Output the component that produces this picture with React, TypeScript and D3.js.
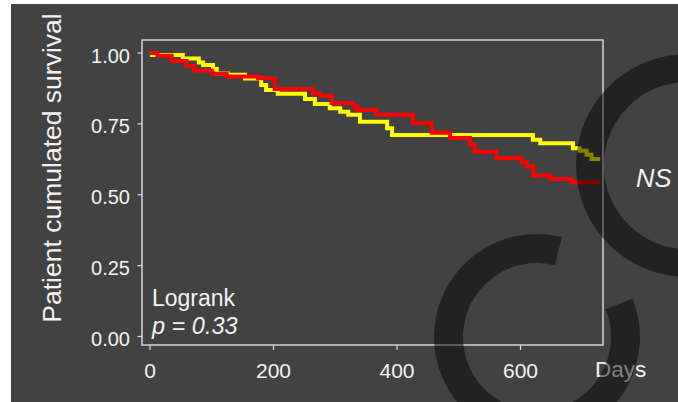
import React from "react";
import * as d3 from "d3";

const redTimes = [0, 12, 35, 59, 71, 100, 124, 175, 202, 264, 275, 294, 329, 335, 367, 426, 456, 486, 518, 526, 561, 602, 610, 621, 648, 683, 729];
const redSurv = [1.0, 0.99, 0.972, 0.955, 0.938, 0.927, 0.917, 0.911, 0.873, 0.858, 0.849, 0.824, 0.811, 0.799, 0.782, 0.752, 0.719, 0.7, 0.676, 0.652, 0.629, 0.615, 0.6, 0.568, 0.556, 0.543, 0.543];

const yellowTimes = [0, 3, 53, 79, 86, 102, 108, 126, 154, 180, 188, 207, 251, 267, 291, 308, 321, 340, 384, 392, 620, 632, 685, 696, 707, 715, 729];
const yellowSurv = [1.0, 0.993, 0.981, 0.967, 0.958, 0.944, 0.928, 0.923, 0.91, 0.887, 0.87, 0.856, 0.838, 0.82, 0.805, 0.793, 0.782, 0.758, 0.735, 0.711, 0.694, 0.682, 0.664, 0.655, 0.641, 0.626, 0.626];

const xTicks = [0, 200, 400, 600];
const yTicks = [0, 0.25, 0.5, 0.75, 1.0];

const FONT = "'Liberation Sans', Arial, Helvetica, sans-serif";
const TEXT = "#f2f2f2";
const LINE = "#dedede";

export default function App() {
  const W = 678, H = 402;
  const panel = { left: 142, right: 603, top: 40, bottom: 345 };
  const x = d3.scaleLinear().domain([-13, 733.6]).range([panel.left, panel.right]);
  const y = d3.scaleLinear().domain([-0.03, 1.046]).range([panel.bottom, panel.top]);

  const line = d3
    .line<[number, number]>()
    .x((d) => x(d[0]))
    .y((d) => y(d[1]))
    .curve(d3.curveStepAfter);

  const red = redTimes.map((t, i) => [t, redSurv[i]] as [number, number]);
  const yellow = yellowTimes.map((t, i) => [t, yellowSurv[i]] as [number, number]);

  const ringArc = d3.arc();
  const ring1 = ringArc({ innerRadius: 83.5, outerRadius: 111.4, startAngle: 0, endAngle: Math.PI * 2 }) || "";
  const ring2 =
    ringArc({
      innerRadius: 74,
      outerRadius: 103,
      startAngle: (68 * Math.PI) / 180,
      endAngle: ((360 + 14) * Math.PI) / 180,
    }) || "";

  return (
    <svg
      width={W}
      height={H}
      style={{ position: "absolute", left: 0, top: 0, display: "block" }}
    >
      <rect x={0} y={0} width={W} height={H} fill="#ffffff" />
      <rect x={11} y={4} width={W - 11} height={H - 4} fill="#424242" />

      {/* panel border */}
      <rect
        x={panel.left}
        y={panel.top}
        width={panel.right - panel.left}
        height={panel.bottom - panel.top}
        fill="none"
        stroke={LINE}
        strokeWidth={1.4}
      />

      {/* y axis ticks */}
      {yTicks.map((v) => (
        <g key={"y" + v}>
          <line x1={panel.left - 4.5} x2={panel.left} y1={y(v)} y2={y(v)} stroke={LINE} strokeWidth={1.2} />
          <text
            x={panel.left - 12}
            y={y(v) + 9.5}
            textAnchor="end"
            fontFamily={FONT}
            fontSize={20}
            fill={TEXT}
          >
            {d3.format(".2f")(v)}
          </text>
        </g>
      ))}

      {/* x axis ticks */}
      {xTicks.map((v) => (
        <g key={"x" + v}>
          <line x1={x(v)} x2={x(v)} y1={panel.bottom} y2={panel.bottom + 5} stroke={LINE} strokeWidth={1.2} />
          <text x={x(v)} y={377.5} textAnchor="middle" fontFamily={FONT} fontSize={21} fill={TEXT}>
            {v}
          </text>
        </g>
      ))}

      <text x={595} y={377} fontFamily={FONT} fontSize={22.5} fill={TEXT}>
        Days
      </text>

      <text
        transform={`translate(61,168) rotate(-90)`}
        textAnchor="middle"
        fontFamily={FONT}
        fontSize={26.5}
        fill={TEXT}
      >
        Patient cumulated survival
      </text>

      {/* curves */}
      <path d={line(yellow) || ""} fill="none" stroke="#ffff00" strokeWidth={4} />
      <path d={line(red) || ""} fill="none" stroke="#ff0000" strokeWidth={4} />

      <text x={152} y={306} fontFamily={FONT} fontSize={23} fill={TEXT}>
        Logrank
      </text>
      <text x={152} y={334} fontFamily={FONT} fontSize={23.5} fontStyle="italic" fill={TEXT}>
        p = 0.33
      </text>

      <text x={636} y={186.5} fontFamily={FONT} fontSize={25.5} fontStyle="italic" fill={TEXT}>
        NS
      </text>

      {/* decorative rings */}
      <path d={ring1} transform="translate(687.4,165.5)" fill="#000" fillOpacity={0.48} />
      <path d={ring2} transform="translate(537,337)" fill="#000" fillOpacity={0.48} />
    </svg>
  );
}
